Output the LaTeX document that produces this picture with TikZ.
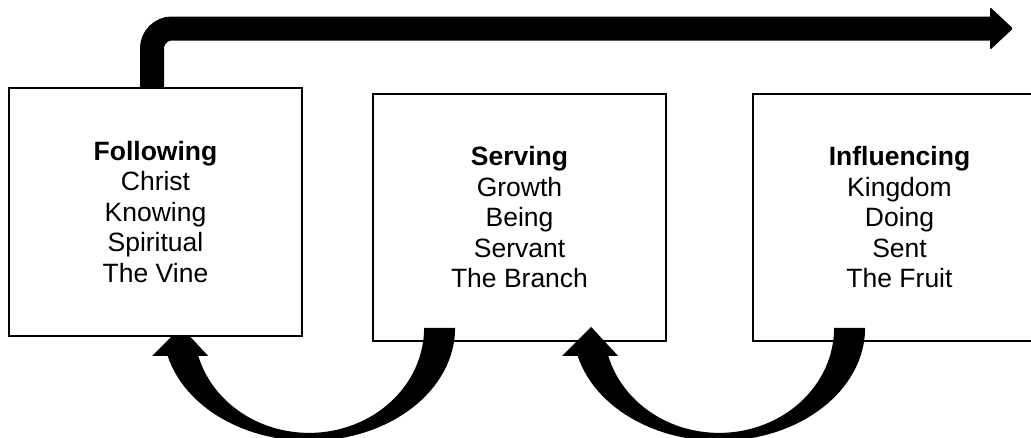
\documentclass[tikz,border=0pt]{standalone}
\usepackage{fontspec}
\setmainfont{Liberation Sans}
\usetikzlibrary{calc}
\pgfdeclarelayer{front}
\pgfsetlayers{main,front}
\tikzset{
  box/.style={draw=black, line width=1.8pt, fill=white, minimum width=293pt,
    minimum height=248pt, inner sep=0pt, align=center,
    font=\fontsize{26.5}{30.5}\selectfont},
  band/.style={line width=24pt, draw=black},
  pics/curvy/.style={code={
    \fill[black] (115,0) -- (146,0)
      -- plot[domain=0:165.65,samples=60] ({146*cos(\x)},{113*sin(\x)})
      -- (-157,28) -- (-128,-1) -- (-101,28)
      -- plot[domain=164.53:0,samples=60] ({115*cos(\x)},{105*sin(\x)})
      -- cycle;
  }}
}
\begin{document}
\begin{tikzpicture}[x=1pt,y=-1pt]
\useasboundingbox (0,0) rectangle (1031,437);
\clip (0,0) rectangle (1031,437);
\node[box, minimum height=247pt] (s) at (519.5,217.5)
  {\textbf{Serving}\\Growth\\Being\\Servant\\The Branch};
\node[box, minimum height=247pt] (i) at (899.5,217.5)
  {\textbf{Influencing}\\Kingdom\\Doing\\Sent\\The Fruit};
\begin{pgfonlayer}{front}
\node[box] (f) at (155.5,212)
  {\textbf{Following}\\Christ\\Knowing\\Spiritual\\The Vine};
\end{pgfonlayer}
% top arrow
\coordinate (t0) at ([xshift=-3.5pt]f.north);
\coordinate (tend) at (991,28.5);
\draw[band, rounded corners=20pt] (t0) -- (t0 |- tend) -- (tend);
\fill[black, rounded corners=1.5pt] ([shift={(-1,-21.5)}]tend) -- ([shift={(22,0)}]tend)
  -- ([shift={(-1,21.5)}]tend) -- cycle;
% curved arrows
\pic at ($(s.south west)+(-63,-14)$) {curvy};
\pic at ($(i.south west)+(-33,-14)$) {curvy};
\end{tikzpicture}
\end{document}
